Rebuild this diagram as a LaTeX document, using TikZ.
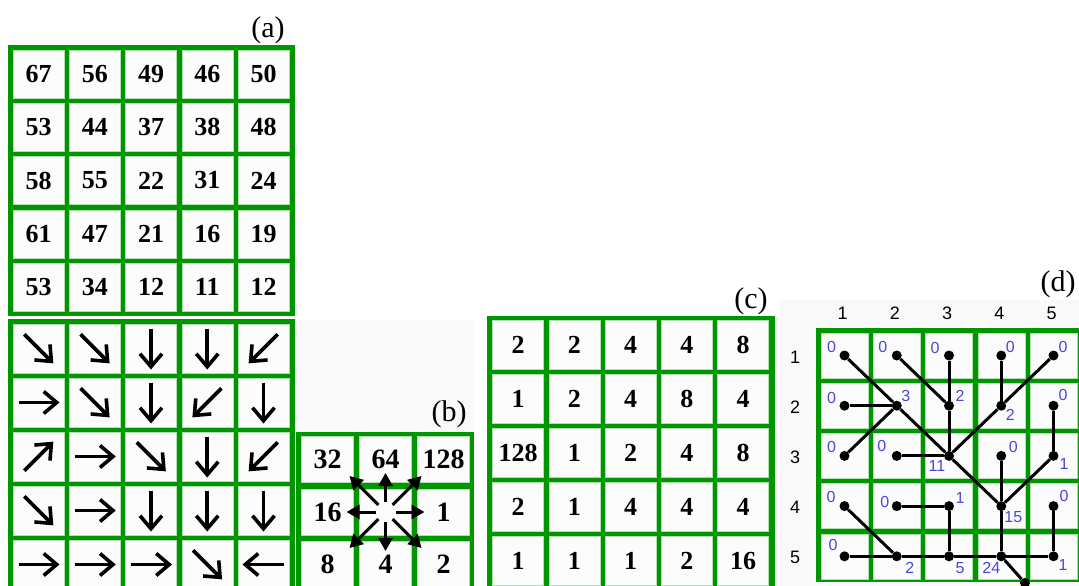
\documentclass[tikz,border=0pt]{standalone}
\usepackage{fontspec}
\setmainfont{Liberation Serif}
\newfontfamily\sansnum{Liberation Sans}
\usepackage{tikz}
\usetikzlibrary{arrows.meta,positioning}
\usepackage{xcolor}

\definecolor{tablegreen}{RGB}{0,150,0}
\definecolor{cellbg}{RGB}{252,252,252}
\definecolor{accblue}{RGB}{72,72,215}
\definecolor{panelbg}{RGB}{249,249,249}

% D8 codes of the 5x5 example, row by row
\newcommand{\dircodes}{{2,2,4,4,8},{1,2,4,8,4},{128,1,2,4,8},{2,1,4,4,4},{1,1,1,2,16}}

\begin{document}
\begin{tikzpicture}[x=1pt, y=-1pt,
  cell/.style={draw=tablegreen!30, line width=0.5pt, fill=cellbg, inner sep=0pt,
               minimum width=51pt, minimum height=48pt,
               font=\fontsize{26}{26}\selectfont\bfseries},
  flow/.style={line width=3.6pt, -{Straight Barb[length=13pt, width=22pt]}},
  ray/.style={line width=3pt, -{Triangle[length=13pt, width=14pt]}},
  link/.style={line width=3pt},
  dot/.style={circle, fill=black, inner sep=0pt, minimum size=10pt},
  acc/.style={text=accblue, inner sep=0pt, font=\sansnum\fontsize{16}{16}\selectfont},
  axis/.style={inner sep=0pt, font=\sansnum\fontsize{18}{18}\selectfont},
  tag/.style={inner sep=0pt, font=\fontsize{30}{30}\selectfont}]
  \useasboundingbox (0,0) rectangle (1079,586);
  \fill[white] (0,0) rectangle (1079,586);
  \clip (0,0) rectangle (1079,586);
  \fill[panelbg] (296,320) rectangle (473,586);
  \fill[panelbg] (780,300) rectangle (1079,586);

  % (a) elevations
  \node[tag] (taga) at (268,30) {(a)};
  \fill[tablegreen] (8,45) rectangle (295,316);
  \foreach \row [count=\r] in {{67,56,49,46,50},{53,44,37,38,48},{58,55,22,31,24},{61,47,21,16,19},{53,34,12,11,12}}
    \foreach \v [count=\c] in \row
      \node[cell] (a\r\c) at ({38.5+56.25*(\c-1)}, {74+53.25*(\r-1)}) {\v};

  % flow directions drawn as arrows
  \fill[tablegreen] (8,319) rectangle (295,600);
  \foreach \row [count=\r] in \dircodes
    \foreach \v [count=\c] in \row {
      \node[cell, minimum height=49pt] (g\r\c) at ({38.5+56.25*(\c-1)}, {348.5+54*(\r-1)}) {};
      \pgfmathsetmacro\ang{45*round(ln(\v)/ln(2))}
      \draw[flow] ([shift={(\ang+180:20)}]g\r\c.center) -- ([shift={(\ang:21)}]g\r\c.center);
    }

  % (b) code of each neighbour
  \node[tag] (tagb) at (449,414) {(b)};
  \fill[tablegreen] (296,432) rectangle (474,600);
  \foreach \row [count=\r] in {{32,64,128},{16,{},1},{8,4,2}}
    \foreach \v [count=\c] in \row
      \node[cell, minimum width=52pt, minimum height=46pt, font=\fontsize{28}{28}\selectfont\bfseries]
        (b\r\c) at ({327.5+58*(\c-1)}, {459.5+52.5*(\r-1)}) {\v};
  \foreach \k in {0,...,7} {
    \pgfmathsetmacro\rend{isodd(\k) ? 51 : 39}
    \draw[ray] ([shift={(45*\k:10)}]b22.center) -- ([shift={(45*\k:\rend)}]b22.center);
  }

  % (c) coded directions
  \node[tag] (tagc) at (751,301) {(c)};
  \fill[tablegreen] (487,316) rectangle (775,600);
  \foreach \row [count=\r] in \dircodes
    \foreach \v [count=\c] in \row
      \node[cell, minimum height=49pt] (c\r\c) at ({518+56.25*(\c-1)}, {345+54*(\r-1)}) {\v};

  % (d) flow tree and accumulation
  \node[tag] (tagd) at (1058,284) {(d)};
  \fill[tablegreen] (816,328) rectangle (1085,582);
  \foreach \r in {1,...,5}
    \foreach \c in {1,...,5} {
      \node[cell, minimum width=47pt, minimum height=45pt] (d\r\c) at ({844.5+52.25*(\c-1)}, {355.5+50.2*(\r-1)}) {};
      \node[dot] (p\r\c) at (d\r\c.center) {};
    }
  \foreach \c in {1,...,5}
    \node[axis] (col\c) at ({842.5+52.25*(\c-1)}, 313) {\c};
  \foreach \r in {1,...,5}
    \node[axis] (row\r) at (795, {357+50.2*(\r-1)}) {\r};
  \node[dot] (outlet) at (1025,583) {};
  \foreach \src/\dst in {11/22,12/23,13/23,14/24,15/24,21/22,22/33,23/33,24/33,25/35,
                         31/22,32/33,33/44,34/44,35/44,41/52,42/43,43/53,44/54,45/55,
                         51/52,52/53,53/54,55/54}
    \draw[link] (p\src) -- (p\dst);
  \draw[link] (p54) -- (outlet);
  \foreach \idx/\dx/\dy/\v in {11/-13/-9/0,12/-14/-9/0,13/-14/-8/0,14/9/-9/0,15/9.5/-9/0,
                               21/-13/-8/0,22/9/-10/3,23/11/-10/2,24/9/9/2,25/9.5/-11/0,
                               31/-13/-9/0,32/-15/-10/0,33/-12/10/11,34/12/-9/0,35/10.5/8/1,
                               41/-13.5/-9.5/0,42/-12/-4/0,43/11/-8/1,44/12/10.5/15,45/10.5/-10.5/0,
                               51/-11.5/-11/0,52/13/12/2,53/11/12/5,54/-10/12/24,55/9.5/9/1}
    \node[acc] (n\idx) at ([shift={(\dx,\dy)}]p\idx.center) {\v};
\end{tikzpicture}
\end{document}
